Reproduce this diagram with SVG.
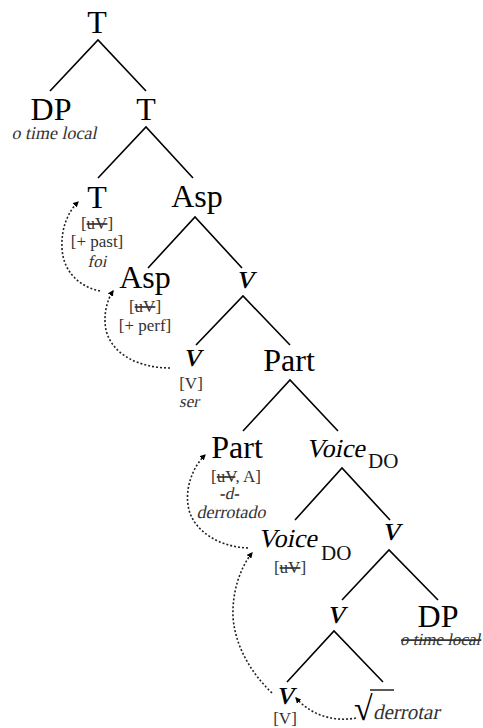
<svg xmlns="http://www.w3.org/2000/svg" width="483" height="728" viewBox="0 0 483 728">
<style>
text{font-family:"Liberation Serif","Times New Roman",serif}
.n{font-size:32px;fill:#000;text-anchor:middle}
.vv{font-size:35px;fill:#000;text-anchor:middle}
.v{font-size:26px;fill:#000}
.sub{font-size:21px;fill:#111}
.a{font-size:17px;fill:#333;text-anchor:middle}
.st{text-decoration:line-through}
.e{stroke:#000;stroke-width:1.6;fill:none}
.d{stroke:#222;stroke-width:1.6;fill:none;stroke-dasharray:2 2;marker-end:url(#ah)}
</style>
<defs>
<marker id="ah" viewBox="0 0 10 10" refX="8" refY="5" markerWidth="6" markerHeight="6" markerUnits="userSpaceOnUse" orient="auto">
<path d="M0,0 L10,5 L0,10 z" fill="#000"/>
</marker>
</defs>
<rect width="483" height="728" fill="#fff"/>
<g id="edges">
<path class="e" d="M50,91 L98,40 L146,91"/>
<path class="e" d="M98,178 L146,127 L193,178"/>
<path class="e" d="M148,268 L195,217 L242,268"/>
<path class="e" d="M196,345 L243,296 L290,345"/>
<path class="e" d="M243,431 L290,380 L338,431"/>
<path class="e" d="M295,520 L342,468 L390,520"/>
<path class="e" d="M342,600 L389,550 L438,600"/>
<path class="e" d="M287,682 L334,631 L383,682"/>
</g>
<g id="movement">
<path class="d" d="M100,291 C80,287 63,272 62,248 C61,228 68,212 78,202"/>
<path class="d" d="M170,368 C140,368 112,355 106,330 C103,315 107,300 113,291"/>
<path class="d" d="M248,548 C220,547 195,532 189,510 C184,490 192,468 205,455"/>
<path class="d" d="M272,693 C250,672 235,645 233,617 C232,592 240,568 252,553"/>
<path class="d" d="M356,718 C335,722 312,716 296,698"/>
</g>
<g id="T1"><text class="n" x="97" y="33">T</text></g>
<g id="DP1"><text class="n" x="51" y="120">DP</text><text class="a" transform="translate(54,139) skewX(-12)" style="font-size:18px">o time local</text></g>
<g id="T2"><text class="n" x="146" y="120">T</text></g>
<g id="T3"><text class="n" x="97" y="208">T</text>
<text class="a" x="97" y="229">[<tspan class="st">uV</tspan>]</text>
<text class="a" x="97" y="247">[+ past]</text>
<text class="a" transform="translate(97,267) skewX(-12)">foi</text></g>
<g id="Asp1"><text class="n" x="197" y="207">Asp</text></g>
<g id="Asp2"><text class="n" x="145" y="288">Asp</text>
<text class="a" x="145" y="312">[<tspan class="st">uV</tspan>]</text>
<text class="a" x="145" y="331">[+ perf]</text></g>
<g id="v1"><text class="vv" transform="translate(245,288) skewX(-12)">v</text></g>
<g id="v2"><text class="vv" transform="translate(192,366) skewX(-12)">v</text>
<text class="a" x="191" y="389">[V]</text>
<text class="a" transform="translate(189,407) skewX(-12)">ser</text></g>
<g id="Part1"><text class="n" x="289" y="371">Part</text></g>
<g id="Part2"><text class="n" x="237" y="458">Part</text>
<text class="a" x="236" y="482">[<tspan class="st">uV</tspan>, A]</text>
<text class="a" transform="translate(229,499) skewX(-12)">-d-</text>
<text class="a" transform="translate(231,518) skewX(-12)" style="font-size:18px">derrotado</text></g>
<g id="Voice1"><text class="v" transform="translate(306,457) skewX(-12)">Voice</text><text class="sub" x="368" y="468">DO</text></g>
<g id="Voice2"><text class="v" transform="translate(258,547) skewX(-12)">Voice</text><text class="sub" x="321" y="560">DO</text>
<text class="a" x="290" y="573">[<tspan class="st">uV</tspan>]</text></g>
<g id="v3"><text class="vv" transform="translate(391,540) skewX(-12)">v</text></g>
<g id="v4"><text class="vv" transform="translate(336,623) skewX(-12)">v</text></g>
<g id="DP2"><text class="n" x="438" y="627">DP</text>
<text class="a st" transform="translate(400,645) skewX(-12)" style="text-anchor:start">o time local</text></g>
<g id="v5"><text class="vv" transform="translate(285,704) skewX(-12)">v</text>
<text class="a" x="285" y="724">[V]</text></g>
<g id="root"><text x="354" y="720" style="font-size:34px;fill:#000">√</text>
<line x1="370" y1="690" x2="394" y2="690" stroke="#000" stroke-width="1.3"/>
<text transform="translate(373,719) skewX(-12)" style="font-size:21px;fill:#333">derrotar</text></g>
</svg>
